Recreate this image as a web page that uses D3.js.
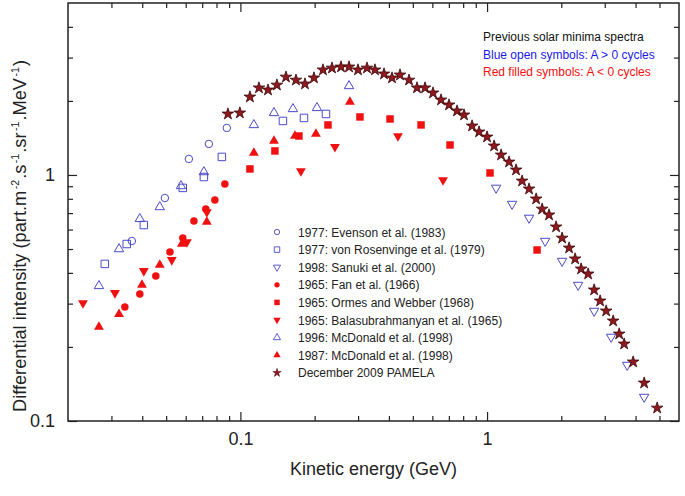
<!DOCTYPE html>
<html>
<head>
<meta charset="utf-8">
<script src="https://cdn.jsdelivr.net/npm/d3@7"></script>
<style>
  html, body { margin: 0; padding: 0; background: #fff; }
  svg { display: block; font-family: "Liberation Sans", Arial, sans-serif; }
</style>
</head>
<body>
<svg id="chart" width="685" height="496"></svg>
<script>
// ---- Data (kinetic energy GeV, differential intensity) ----
const evenson1977 = [[0.0363,0.539],[0.0494,0.806],[0.0618,1.162],[0.0745,1.337],[0.0881,1.553]];
const vonRosenvinge1977 = [[0.0282,0.435],[0.0346,0.524],[0.0406,0.626],[0.0584,0.886],[0.0711,0.981],[0.0841,1.184],[0.1487,1.658],[0.181,1.705],[0.2223,1.770]];
const sanuki1998 = [[1.088,0.886],[1.263,0.762],[1.480,0.669],[1.720,0.539],[2.015,0.447],[2.340,0.357],[2.717,0.280],[3.184,0.2196],[3.698,0.1689],[4.335,0.1252]];
const fan1965 = [[0.0340,0.2906],[0.0391,0.3284],[0.0454,0.3886],[0.0518,0.486],[0.0584,0.554],[0.0648,0.650],[0.0724,0.727],[0.0788,0.791],[0.0865,0.919]];
const ormes1965 = [[0.1093,1.058],[0.138,1.252],[0.1727,1.440],[0.2265,1.597],[0.3053,1.721],[0.4042,1.689],[0.540,1.597],[0.7077,1.324],[1.028,1.019],[1.595,0.4956]];
const bala1965 = [[0.0230,0.3018],[0.0310,0.3315],[0.0406,0.4073],[0.0527,0.4514],[0.0607,0.534],[0.0731,0.707],[0.1759,1.038],[0.2417,1.300],[0.4353,1.440],[0.663,0.954]];
const mcdonald1996 = [[0.0267,0.354],[0.0322,0.500],[0.0391,0.663],[0.0471,0.741],[0.0574,0.902],[0.0711,1.028],[0.1134,1.597],[0.1368,1.787],[0.1633,1.855],[0.2043,1.873],[0.2756,2.30]];
const mcdonald1987 = [[0.0267,0.241],[0.0322,0.272],[0.0399,0.357],[0.0471,0.431],[0.0579,0.524],[0.0731,0.644],[0.1134,1.229],[0.1368,1.375],[0.1664,1.440],[0.2024,1.468],[0.278,1.981]];
const pamela2009 = [[0.0890,1.770],[0.0995,1.787],[0.1093,2.075],[0.1189,2.259],[0.1294,2.215],[0.1406,2.32],[0.1530,2.50],[0.1680,2.43],[0.1827,2.344],[0.1987,2.48],
  [0.2162,2.673],[0.2351,2.72],[0.2557,2.748],[0.2756,2.748],[0.2997,2.673],[0.3260,2.72],[0.3512,2.673],[0.3821,2.574],[0.4118,2.48],[0.4437,2.55],
  [0.4827,2.43],[0.520,2.259],[0.5605,2.259],[0.6038,2.154],[0.6506,2.018],[0.7010,1.926],[0.7556,1.820],[0.8065,1.754],[0.8694,1.582],[0.928,1.496],
  [1.0,1.427],[1.068,1.312],[1.140,1.206],[1.228,1.129],[1.311,1.048],[1.387,0.945],[1.480,0.877],[1.581,0.799],[1.672,0.727],[1.784,0.688],
  [1.905,0.615],[2.015,0.554],[2.151,0.505],[2.275,0.456],[2.406,0.415],[2.569,0.396],[2.717,0.341],[2.873,0.3075],[3.04,0.280],[3.245,0.255],
  [3.432,0.2258],[3.596,0.2056],[3.911,0.1738],[4.335,0.1427],[4.893,0.1129]];

const xMajorTicks = [0.1, 1];
const xMinorTicks = [0.03,0.04,0.05,0.06,0.07,0.08,0.09,0.2,0.3,0.4,0.5,0.6,0.7,0.8,0.9,2,3,4,5];
const yMajorTicks = [0.1, 1];
const yMinorTicks = [0.2,0.3,0.4,0.5,0.6,0.7,0.8,0.9,2,3,4];

const legendLabels = [
  "1977: Evenson et al. (1983)",
  "1977: von Rosenvinge et al. (1979)",
  "1998: Sanuki et al. (2000)",
  "1965: Fan et al. (1966)",
  "1965: Ormes and Webber (1968)",
  "1965: Balasubrahmanyan et al. (1965)",
  "1996: McDonald et al. (1998)",
  "1987: McDonald et al. (1998)",
  "December 2009 PAMELA"
];
const noteLines = ["Previous solar minima spectra","Blue open symbols: A > 0 cycles","Red filled symbols: A < 0 cycles"];

// ---- Layout ----
const svg = d3.select("#chart");
const L = 68, T = 3, R = 679, B = 421;
const x = d3.scaleLog().domain([0.02, 6]).range([L, R]);
const y = d3.scaleLog().domain([0.1, 5]).range([B, T]);

const BLUE = "#4a4ac8", RED = "#f01010", STAR = "#8e1a1f", STAR_STROKE = "#3a0508";

// axes
function styleAxis(g) {
  g.select(".domain").remove();
  g.selectAll(".tick line").attr("stroke", "#222").attr("stroke-width", 1.2);
  g.selectAll(".tick text").attr("font-size", 18).attr("fill", "#222")
    .attr("font-family", "Liberation Sans, Arial, sans-serif");
}
const fmt = d => d === 1 ? "1" : "0.1";
svg.append("g").attr("transform", `translate(0,${B})`)
  .call(d3.axisBottom(x).tickValues(xMajorTicks).tickSize(-9).tickPadding(11).tickFormat(fmt)).call(styleAxis);
svg.append("g").attr("transform", `translate(0,${B})`)
  .call(d3.axisBottom(x).tickValues(xMinorTicks).tickSize(-5).tickFormat("")).call(styleAxis);
svg.append("g").attr("transform", `translate(0,${T})`)
  .call(d3.axisTop(x).tickValues(xMajorTicks).tickSize(-9).tickFormat("")).call(styleAxis);
svg.append("g").attr("transform", `translate(0,${T})`)
  .call(d3.axisTop(x).tickValues(xMinorTicks).tickSize(-5).tickFormat("")).call(styleAxis);
svg.append("g").attr("transform", `translate(${L},0)`)
  .call(d3.axisLeft(y).tickValues(yMajorTicks).tickSize(-9).tickPadding(13).tickFormat(fmt)).call(styleAxis);
svg.append("g").attr("transform", `translate(${L},0)`)
  .call(d3.axisLeft(y).tickValues(yMinorTicks).tickSize(-5).tickFormat("")).call(styleAxis);
svg.append("g").attr("transform", `translate(${R},0)`)
  .call(d3.axisRight(y).tickValues(yMajorTicks).tickSize(-9).tickFormat("")).call(styleAxis);
svg.append("g").attr("transform", `translate(${R},0)`)
  .call(d3.axisRight(y).tickValues(yMinorTicks).tickSize(-5).tickFormat("")).call(styleAxis);

svg.append("rect").attr("x", L).attr("y", T).attr("width", R - L).attr("height", B - T)
  .attr("fill", "none").attr("stroke", "#222").attr("stroke-width", 1.5);

// axis titles
svg.append("text").attr("x", (L + R) / 2).attr("y", 475).attr("text-anchor", "middle")
  .attr("font-size", 18).attr("fill", "#222").text("Kinetic energy (GeV)");

const yt = svg.append("text").attr("transform", `translate(26,${236}) rotate(-90)`)
  .attr("text-anchor", "middle").attr("font-size", 18).attr("fill", "#222");
const parts = [["Differential intensity (part.m",0],["-2",1],[".s",0],["-1",1],[".sr",0],["-1",1],[".MeV",0],["-1",1],[")",0]];
parts.forEach(([t, sup], i) => {
  const prevSup = i > 0 && parts[i-1][1];
  const ts = yt.append("tspan").text(t);
  if (sup) ts.attr("font-size", 10.5).attr("dy", prevSup ? 0 : -7).attr("dx", 1.5);
  else if (prevSup) ts.attr("dy", 7).attr("dx", 1);
});
yt.attr("textLength", 352).attr("lengthAdjust", "spacingAndGlyphs");

// symbols
const sym = (type, size) => d3.symbol().type(type).size(size)();
const series = [
  { data: evenson1977, shape: d3.symbolCircle, size: 44, fill: "none", stroke: BLUE, rot: 0, ls: 22 },
  { data: vonRosenvinge1977, shape: d3.symbolSquare, size: 56, fill: "none", stroke: BLUE, rot: 0, ls: 30 },
  { data: sanuki1998, shape: d3.symbolTriangle, size: 38, fill: "none", stroke: BLUE, rot: 180, ls: 22 },
  { data: fan1965, shape: d3.symbolCircle, size: 44, fill: RED, stroke: "none", rot: 0, ls: 22 },
  { data: ormes1965, shape: d3.symbolSquare, size: 56, fill: RED, stroke: "none", rot: 0, ls: 30 },
  { data: bala1965, shape: d3.symbolTriangle, size: 42, fill: RED, stroke: "none", rot: 180, ls: 24 },
  { data: mcdonald1996, shape: d3.symbolTriangle, size: 38, fill: "none", stroke: BLUE, rot: 0, ls: 22 },
  { data: mcdonald1987, shape: d3.symbolTriangle, size: 42, fill: RED, stroke: "none", rot: 0, ls: 24 },
  { data: pamela2009, shape: d3.symbolStar, size: 42, fill: STAR, stroke: STAR_STROKE, rot: 0, ls: 22 }
];

series.forEach(s => {
  svg.append("g").selectAll("path").data(s.data).enter().append("path")
    .attr("d", sym(s.shape, s.size))
    .attr("transform", d => `translate(${x(d[0])},${y(d[1])}) rotate(${s.rot})`)
    .attr("fill", s.fill).attr("stroke", s.stroke).attr("stroke-width", s.shape === d3.symbolStar ? 0.8 : 1);
});

// legend
const lg = svg.append("g");
legendLabels.forEach((label, i) => {
  const s = series[i];
  const cy = 232 + i * 17.6;
  lg.append("path").attr("d", sym(s.shape, s.ls))
    .attr("transform", `translate(277,${cy}) rotate(${s.rot})`)
    .attr("fill", s.fill).attr("stroke", s.stroke).attr("stroke-width", s.shape === d3.symbolStar ? 0.5 : 0.9);
  lg.append("text").attr("x", 298).attr("y", cy + 4.5).attr("font-size", 12).attr("fill", "#222").text(label);
});

// note
const noteColors = ["#111", "#1a1ae6", "#f01010"];
noteLines.forEach((t, i) => {
  svg.append("text").attr("x", 483).attr("y", 41 + i * 17.5).attr("font-size", 12)
    .attr("fill", noteColors[i]).text(t);
});
</script>
</body>
</html>
